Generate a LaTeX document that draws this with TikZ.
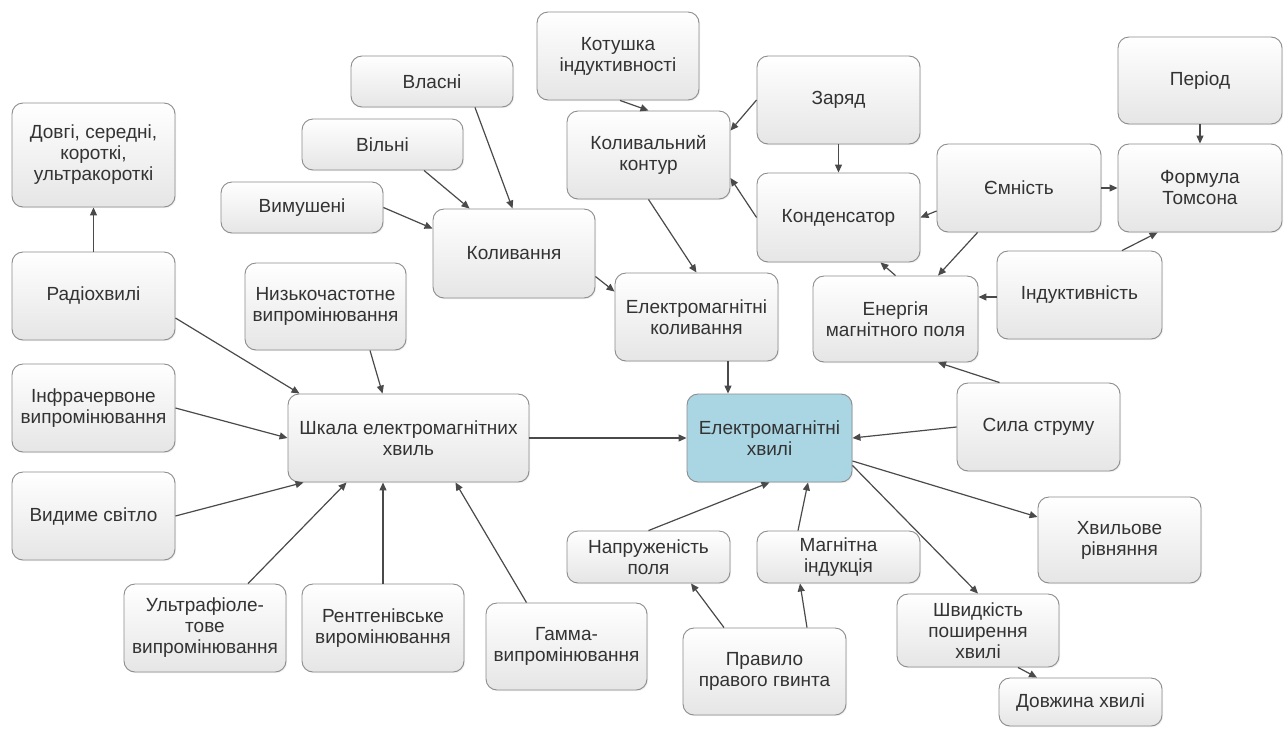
\documentclass[tikz,border=0pt]{standalone}
\usepackage{fontspec}
\setmainfont{Liberation Sans}
\usetikzlibrary{arrows.meta,shadows}
\definecolor{edge}{HTML}{4A4A4A}
\definecolor{boxline}{HTML}{8C8C8C}
\definecolor{txt}{HTML}{333333}
\definecolor{central}{RGB}{170,214,228}
\tikzset{
  box/.style={draw=boxline, line width=0.9pt, rounded corners=11pt,
    top color=white, bottom color=black!10, align=center, text=txt,
    font=\fontsize{19}{21}\selectfont, inner sep=2pt,
    drop shadow={opacity=0.12, shadow xshift=1.2pt, shadow yshift=-1.2pt}},
  centralbox/.style={box, top color=central, bottom color=central, fill=central},
  link/.style={draw=edge, line width=1.2pt, -{Triangle[length=8pt,width=7pt]}},
}
\newcommand{\bx}[6][box]{\node[#1, minimum width=#4pt, minimum height=#5pt] (#2) at (#3) {#6};}
\begin{document}
\begin{tikzpicture}[x=1pt,y=-1pt]
\useasboundingbox (0,0) rectangle (1288,729);
% boxes
\bx{dovgi}{93.5,155}{163}{104}{Довгі, середні,\\короткі,\\ультракороткі}
\bx{radio}{93.5,296}{163}{88}{Радіохвилі}
\bx{infra}{93.5,408}{163}{88}{Інфрачервоне\\випромінювання}
\bx{vydyme}{93.5,516}{163}{88}{Видиме світло}
\bx{nyzko}{325.5,306.5}{161}{87}{Низькочастотне\\випромінювання}
\bx{shkala}{408.5,438}{241}{88}{Шкала електромагнітних\\хвиль}
\bx{ultra}{205,628}{162}{88}{Ультрафіоле-\\тове\\випромінювання}
\bx{rentg}{383,628}{162}{88}{Рентгенівське\\виромінювання}
\bx{gamma}{566.5,646.5}{161}{87}{Гамма-\\випромінювання}
\bx{vymush}{302,207.5}{162}{51}{Вимушені}
\bx{vilni}{382.5,144.5}{161}{51}{Вільні}
\bx{vlasni}{432,81.5}{162}{51}{Власні}
\bx{kolyv}{514,253.5}{162}{89}{Коливання}
\bx{kotush}{618,56}{162}{88}{Котушка\\індуктивності}
\bx{kontur}{648.5,155}{163}{88}{Коливальний\\контур}
\bx{zaryad}{838.5,100}{163}{88}{Заряд}
\bx{kondens}{838.5,217.5}{163}{89}{Конденсатор}
\bx{yemn}{1019,188}{164}{88}{Ємність}
\bx{period}{1200,80.5}{164}{87}{Період}
\bx{tomson}{1200,188}{164}{88}{Формула\\Томсона}
\bx{indukt}{1079.5,295}{165}{88}{Індуктивність}
\bx{energ}{895.5,319}{165}{86}{Енергія\\магнітного поля}
\bx{emkol}{696.5,317}{163}{88}{Електромагнітні\\коливання}
\bx[centralbox]{emhv}{769.5,438}{165}{88}{Електромагнітні\\хвилі}
\bx{syla}{1038.5,427}{163}{88}{Сила струму}
\bx{hvylove}{1119.5,540}{163}{86}{Хвильове\\рівняння}
\bx{napr}{648.5,557}{163}{52}{Напруженість\\поля}
\bx{magn}{838.5,557}{163}{52}{Магнітна\\індукція}
\bx{shvyd}{978,630.5}{162}{73}{Швидкість\\поширення\\хвилі}
\bx{dovzh}{1080.5,702}{163}{48}{Довжина хвилі}
\bx{pravylo}{764.5,671.5}{163}{87}{Правило\\правого гвинта}
% connectors
\draw[link] (radio.north) -- (dovgi.south);
\draw[link] ([yshift=-22pt]radio.east) -- ([xshift=12pt]shkala.north west);
\draw[link] ([xshift=44.5pt]nyzko.south) -- ([xshift=95pt]shkala.north west);
\draw[link] (infra.east) -- (shkala.west);
\draw[link] (vydyme.east) -- ([xshift=16pt]shkala.south west);
\draw[link] ([xshift=43pt]ultra.north) -- ([xshift=59pt]shkala.south west);
\draw[link] (rentg.north) -- (rentg.north |- shkala.south);
\draw[link] ([xshift=-40pt]gamma.north) -- ([xshift=-74pt]shkala.south east);
\draw[link] (shkala.east) -- (emhv.west);
\draw[link] (vymush.east) -- ([yshift=-20pt]kolyv.north west);
\draw[link] ([xshift=41.5pt]vilni.south) -- ([xshift=37pt]kolyv.north west);
\draw[link] ([xshift=43pt]vlasni.south) -- ([xshift=80pt]kolyv.north west);
\draw[link] ([yshift=-23pt]kolyv.east) -- ([yshift=-19pt]emkol.north west);
\draw[link] ([xshift=2pt]kotush.south) -- (kontur.north);
\draw[link] (zaryad.west) -- ([yshift=-20pt]kontur.north east);
\draw[link] (zaryad.south) -- (kondens.north);
\draw[link] (kondens.west) -- ([yshift=-23pt]kontur.east);
\draw[link] (kontur.south) -- (emkol.north);
\draw[link] ([yshift=-23pt]yemn.west) -- (kondens.east);
\draw[link] (yemn.east) -- (tomson.west);
\draw[link] ([xshift=41pt]yemn.south west) -- ([xshift=42.5pt]energ.north);
\draw[link] (period.south) -- (tomson.north);
\draw[link] ([xshift=42.5pt]indukt.north) -- ([xshift=40pt]tomson.south west);
\draw[link] ([yshift=-2pt]indukt.west) -- ([yshift=-2pt]indukt.west -| energ.east);
\draw[link] (energ.north) -- ([xshift=-40pt]kondens.south east);
\draw[link] ([xshift=43pt]syla.north west) -- ([xshift=42.5pt]energ.south);
\draw[link] (syla.west) -- (emhv.east);
\draw[link] ([xshift=31.5pt]emkol.south) -- ([xshift=31.5pt]emkol.south |- emhv.north);
\draw[link] ([yshift=-23pt]emhv.east) -- ([yshift=23pt]hvylove.west);
\draw[link] ([yshift=17pt]emhv.south east) -- (shvyd.north);
\draw[link] ([xshift=40pt]shvyd.south) -- ([xshift=-43.5pt]dovzh.north);
\draw[link] (napr.north) -- (emhv.south);
\draw[link] ([xshift=-40.5pt]magn.north) -- ([xshift=38.5pt]emhv.south);
\draw[link] ([xshift=-40.5pt]pravylo.north) -- ([xshift=42.5pt]napr.south);
\draw[link] ([xshift=42.5pt]pravylo.north) -- ([xshift=-38.5pt]magn.south);
\end{tikzpicture}
\end{document}
